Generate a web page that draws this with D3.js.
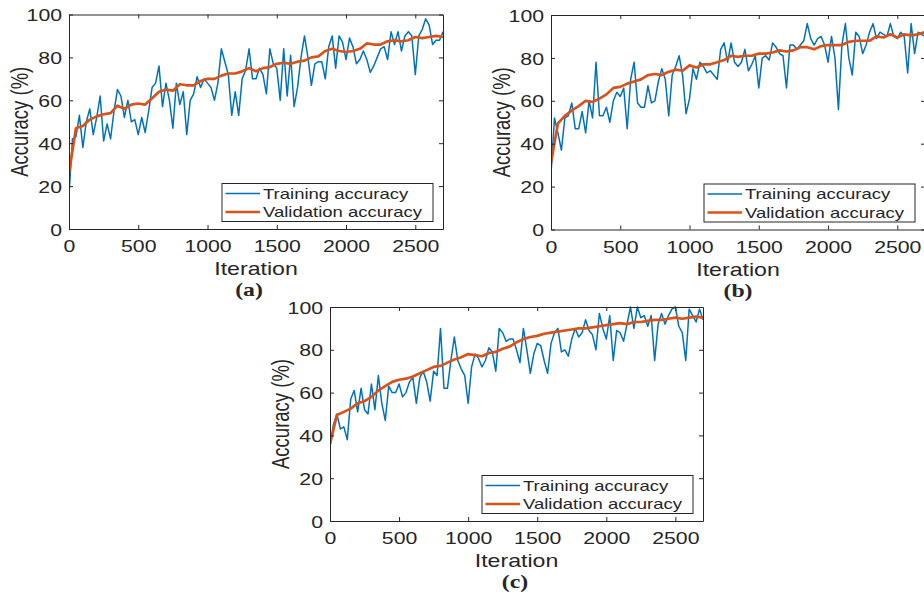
<!DOCTYPE html>
<html>
<head>
<meta charset="utf-8">
<script src="https://cdn.jsdelivr.net/npm/d3@7"></script>
<style>
  html, body { margin: 0; padding: 0; background: #fff; }
  svg { display: block; }
  text { font-family: "Liberation Sans", Arial, sans-serif; fill: #262626; }
</style>
</head>
<body>
<svg id="chart" width="924" height="596"></svg>
<script>
// ---------------- DATA ----------------
const xTicks = [0, 500, 1000, 1500, 2000, 2500];
const yTicks = [0, 20, 40, 60, 80, 100];
const seriesNames = ["Training accuracy", "Validation accuracy"];
const panelLabels = ["(a)", "(b)", "(c)"];

// iteration grids (training sampled every 25 iterations, validation every 50)
const trainIter = d3.range(0, 2701, 25);
const valIter = d3.range(0, 2701, 50);

const trainA = [16,42,43,53,38,50,56,44,52,62,41,49,42,55,65,62,52,60,50,51,44,52,45,55,66,68,76,57,68,60,47,68,58,64,44,60,63,71,66,70,68,66,60,68,84,78,72,53,64,53,70,74,84,70,
  70,75,72,63,84,77,75,60,84,62,81,57,66,80,90,80,67,77,78,78,70,85,90,75,90,87,79,89,85,77,79,83,79,73,76,80,84,85,79,92,86,92,83,90,92,90,72,90,93,98,95,86,88,88,92];
const valA = [26,47,48,51,52.5,53.5,54,57.5,56,58,58.5,58,61,64,65,64.5,67.5,67,67,69,70,70,71.5,72.5,72.5,73.5,75,
  73.5,75,75.5,77,77.5,77,78,78.5,80,80.5,83,84,83,82.5,83,84,86.5,86,86,87.5,88,87.5,88,89.5,89,89.5,90,89.5];

const trainB = [26,52,45,37,52,53,59,47,47,55,45,60,52,78,53,53,57,50,60,64,62,66,47,70,78,59,57,57,67,59,60,69,75,70,53,72,76,81,72,54,61,75,70,78,76,73,74,72,70,84,87,78,87,78,
  76,78,84,74,77,81,66,80,81,79,87,85,82,81,66,86,86,84,86,88,96,89,86,89,90,86,78,90,80,56,86,96,80,72,92,90,82,86,92,96,89,92,91,90,96,90,89,92,90,73,96,82,92,91,90];
const valB = [31,49.5,53,55.5,57.5,60,59.5,61,63,66,66.5,68,69,70,72,72.5,72,73.5,74.5,74,76.5,75.5,77,77,78,79,81,
  80.5,81,81,82,82,82.5,83.5,83,83.5,85,85,84,85.5,86,86,86,87.5,88,88,88,90,89.5,91,89.5,91,90.5,91,92];

const trainC = [35,45,50,43,44,38,57,61,51,62,52,50,64,52,68,55,47,63,60,60,64,58,60,65,67,55,67,70,65,56,70,68,90,62,62,75,86,75,71,68,55,72,78,76,72,75,81,79,70,90,88,84,85,85,
  80,74,90,80,69,78,83,82,75,69,83,88,90,79,80,77,85,90,86,88,94,89,87,80,97,90,85,96,75,89,88,84,92,100,90,100,95,96,91,96,75,92,97,92,96,99,100,91,88,75,99,96,93,99,94];
const valC = [36,49.5,51,52.5,55,56,58,61,63,65,66,66.5,67.5,69,70.5,72,72.5,74,75.5,76.5,78,77.5,77,78.5,79,80.5,81.5,
  83.5,85,86,86.5,87.5,88,88.5,89,89.5,90,90,90.5,91,91.5,92,92.5,92,93,93,93.5,94,94,94.5,95,94.5,95,95.5,95];

const trainSeries = [trainA, trainB, trainC];
const valSeries = [valA, valB, valC];

// ---------------- LAYOUT ----------------
const SX = 1.25; // horizontal stretch of the original figure's text
const panels = [
  {left: 69,  top: 14.5, right: 443, bottom: 229, label: 249},
  {left: 551, top: 15,   right: 925, bottom: 229.5, label: 738},
  {left: 330, top: 307,  right: 703, bottom: 521, label: 515}
];
const BLUE = "#0072BD", ORANGE = "#D95319", AX = "#262626";
const fmt = d3.format("d");

const svg = d3.select("#chart");

panels.forEach((p, i) => {
  const x = d3.scaleLinear().domain([0, 2700]).range([p.left, p.right]);
  const y = d3.scaleLinear().domain([0, 100]).range([p.bottom, p.top]);
  const g = svg.append("g");

  const clipId = "clip" + i;
  svg.append("clipPath").attr("id", clipId).append("rect")
    .attr("x", p.left).attr("y", p.top - 1)
    .attr("width", p.right - p.left).attr("height", p.bottom - p.top + 1);

  // lines
  const lineT = d3.line().x((d, k) => x(trainIter[k])).y(d => y(d));
  const lineV = d3.line().x((d, k) => x(valIter[k])).y(d => y(d));
  g.append("path").datum(trainSeries[i]).attr("d", lineT)
    .attr("fill", "none").attr("stroke", BLUE).attr("stroke-width", 1.5)
    .attr("stroke-linejoin", "round").attr("clip-path", `url(#${clipId})`);
  g.append("path").datum(valSeries[i]).attr("d", lineV)
    .attr("fill", "none").attr("stroke", ORANGE).attr("stroke-width", 2.7)
    .attr("stroke-linejoin", "round").attr("clip-path", `url(#${clipId})`);

  // axes
  const styleAxis = sel => {
    sel.selectAll("path.domain").attr("stroke", AX).attr("stroke-width", 1);
    sel.selectAll(".tick line").attr("stroke", AX).attr("stroke-width", 1);
  };
  const bottom = g.append("g").attr("transform", `translate(0,${p.bottom})`)
    .call(d3.axisBottom(x).tickValues(xTicks).tickFormat(fmt).tickSize(-4).tickSizeOuter(0));
  styleAxis(bottom);
  bottom.selectAll(".tick text")
    .attr("y", 23.5).attr("dy", 0)
    .attr("transform", `scale(${SX},1)`)
    .style("font-size", "17px").style("font-family", "Liberation Sans, Arial, sans-serif")
    .attr("fill", AX);

  const left = g.append("g").attr("transform", `translate(${p.left},0)`)
    .call(d3.axisLeft(y).tickValues(yTicks).tickFormat(fmt).tickSize(-4).tickSizeOuter(0));
  styleAxis(left);
  left.selectAll(".tick text")
    .attr("x", -7 / SX).attr("dy", "0.36em")
    .attr("transform", `scale(${SX},1)`)
    .style("font-size", "17px").style("font-family", "Liberation Sans, Arial, sans-serif")
    .attr("fill", AX);

  const top = g.append("g").attr("transform", `translate(0,${p.top})`)
    .call(d3.axisTop(x).tickValues(xTicks).tickSize(-4).tickSizeOuter(0).tickFormat(""));
  styleAxis(top);
  const right = g.append("g").attr("transform", `translate(${p.right},0)`)
    .call(d3.axisRight(y).tickValues(yTicks).tickSize(-4).tickSizeOuter(0).tickFormat(""));
  styleAxis(right);

  // axis titles
  const cx = (p.left + p.right) / 2;
  g.append("text").attr("transform", `translate(${cx},${p.bottom + 46}) scale(${SX},1)`)
    .attr("text-anchor", "middle").style("font-size", "18.5px").text("Iteration");
  g.append("text").attr("transform", `translate(${p.left - 41},${(p.top + p.bottom) / 2}) scale(${SX},1) rotate(-90)`)
    .attr("text-anchor", "middle").style("font-size", "18.5px").text("Accuracy (%)");

  // panel label
  g.append("text").attr("transform", `translate(${p.label},${p.bottom + 67}) scale(${SX},1)`)
    .attr("text-anchor", "middle")
    .style("font-family", "Liberation Serif, 'Times New Roman', serif")
    .style("font-weight", "bold").style("font-size", "19px").text(panelLabels[i]);

  // legend
  const lw = 211, lh = 38;
  const lx = p.right - 10 - lw, ly = p.bottom - 7.5 - lh;
  const lg = g.append("g").attr("transform", `translate(${lx},${ly})`);
  lg.append("rect").attr("width", lw).attr("height", lh)
    .attr("fill", "#fff").attr("stroke", AX).attr("stroke-width", 1);
  const colors = [BLUE, ORANGE], widths = [1.5, 2.7];
  seriesNames.forEach((name, k) => {
    const yy = 10 + k * 18.5;
    lg.append("line").attr("x1", 3.5).attr("x2", 38).attr("y1", yy).attr("y2", yy)
      .attr("stroke", colors[k]).attr("stroke-width", widths[k]);
    lg.append("text").attr("transform", `translate(41,${yy + 5.3}) scale(${SX},1)`)
      .style("font-size", "14.8px").text(name);
  });
});
</script>
</body>
</html>
